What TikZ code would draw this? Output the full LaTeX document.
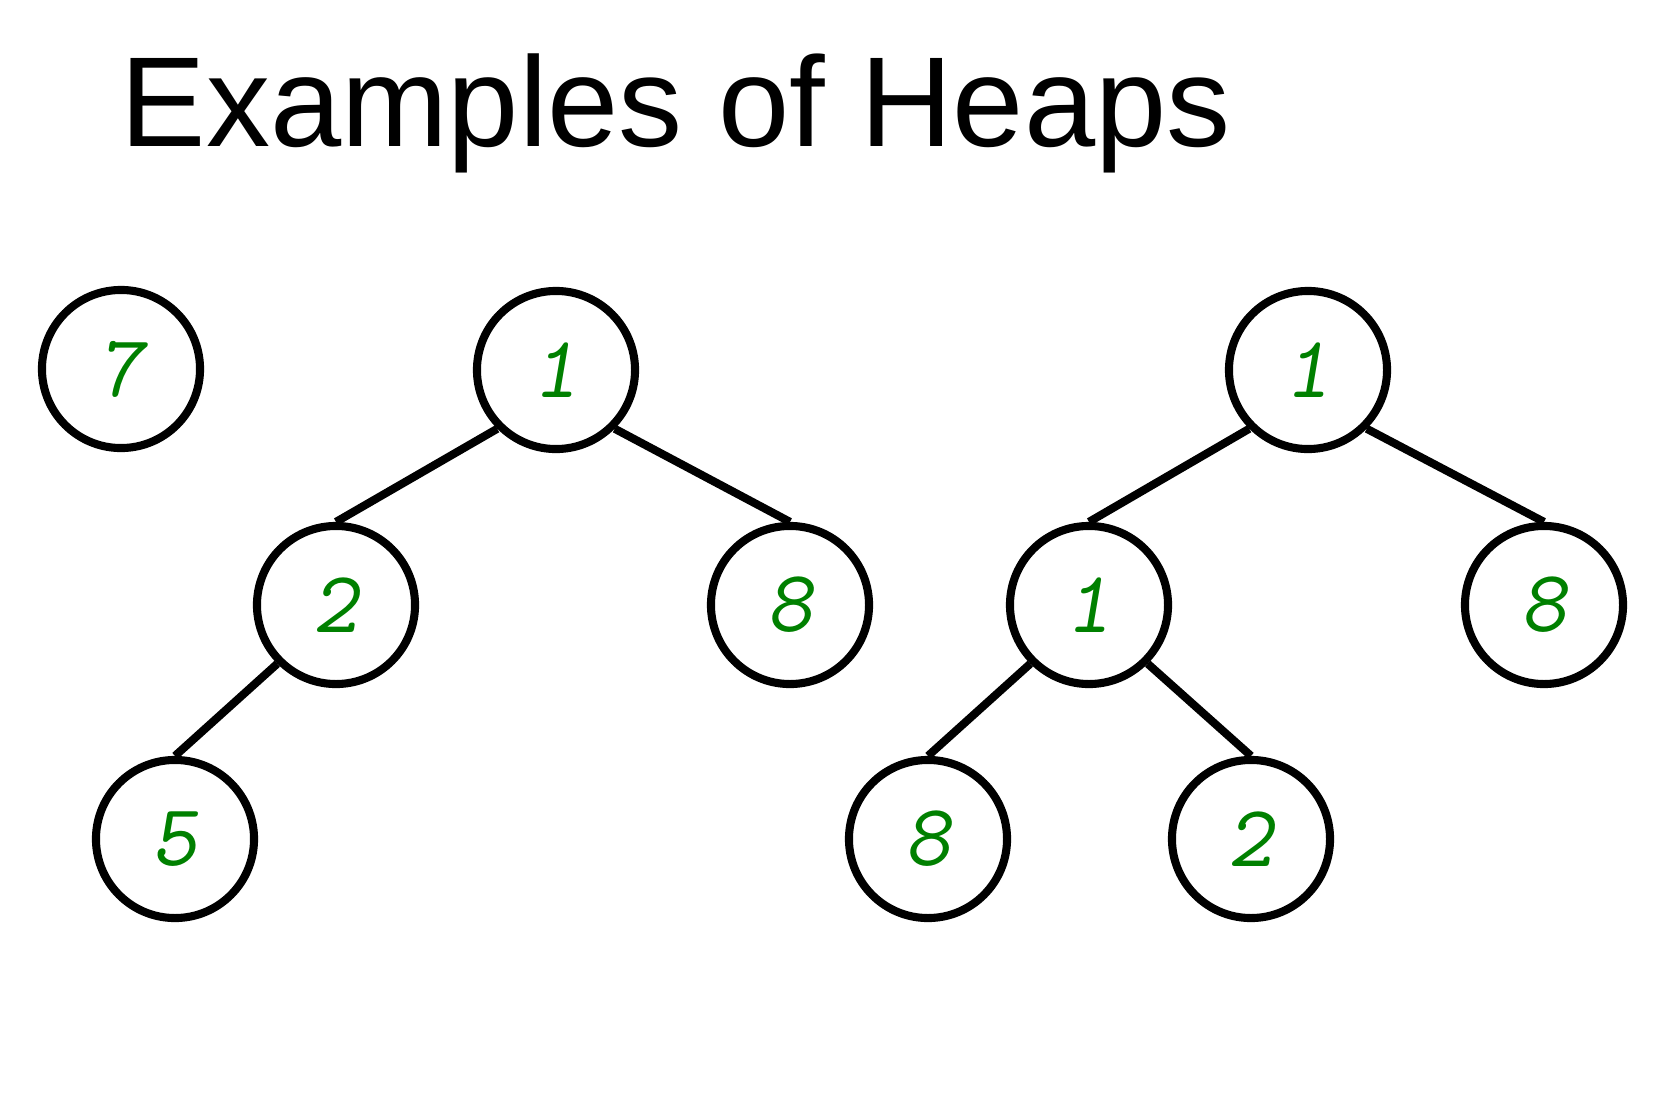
\documentclass[tikz,border=0pt]{standalone}
\usepackage{fontspec}
\setmainfont{Liberation Sans}
\definecolor{clave}{RGB}{0,128,0}
\begin{document}
\begin{tikzpicture}[x=0.01cm, y=-0.01cm,
  nodo/.style={circle, draw, line width=2.3pt, minimum size=1.58cm, inner sep=0pt,
    text=clave, font=\fontsize{25}{25}\ttfamily\slshape},
  arista/.style={line width=2.3pt}]
\useasboundingbox (0,0) rectangle (1666,1100);

% Titulo
\node[anchor=base west, inner sep=0pt, font=\fontsize{36.4}{36.4}\selectfont] (titulo) at (120,146) {Examples of Heaps};

% Primer heap, un solo nodo
\node[nodo] (u7) at (121,369) {7};

% Segundo heap
\node[nodo] (a1) at (556,370) {1};
\node[nodo] (a2) at (336,605) {2};
\node[nodo] (a8) at (790,605) {8};
\node[nodo] (a5) at (175,839) {5};
\draw[arista] (a1.south west) -- (a2.north);
\draw[arista] (a1.south east) -- (a8.north);
\draw[arista] (a2.south west) -- (a5.north);

% Tercer heap
\node[nodo] (b1) at (1308,370) {1};
\node[nodo] (c1) at (1089,605) {1};
\node[nodo] (b8) at (1544,605) {8};
\node[nodo] (c8) at (928,839) {8};
\node[nodo] (c2) at (1251,839) {2};
\draw[arista] (b1.south west) -- (c1.north);
\draw[arista] (b1.south east) -- (b8.north);
\draw[arista] (c1.south west) -- (c8.north);
\draw[arista] (c1.south east) -- (c2.north);
\end{tikzpicture}
\end{document}
